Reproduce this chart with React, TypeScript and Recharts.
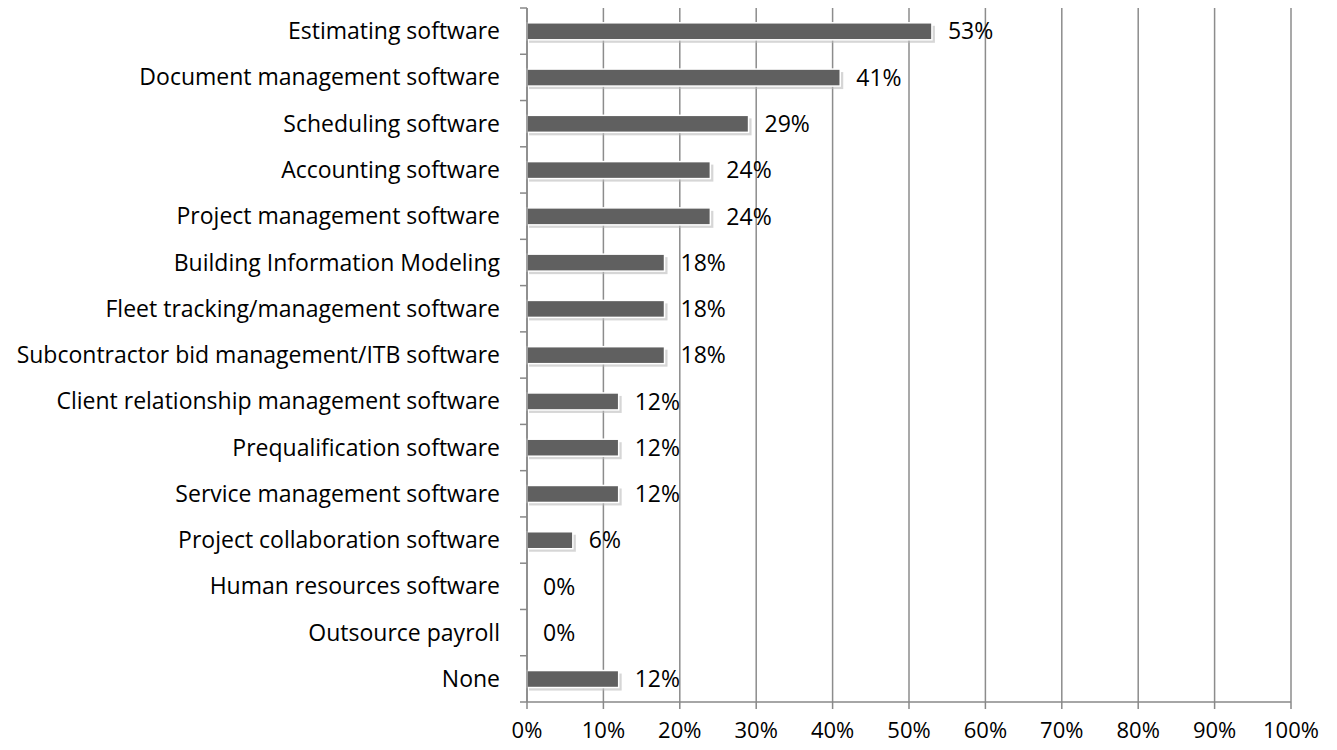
import React from "react";
import {
  BarChart,
  Bar,
  XAxis,
  YAxis,
  CartesianGrid,
  LabelList,
} from "recharts";

const categories = [
  "Estimating software",
  "Document management software",
  "Scheduling software",
  "Accounting software",
  "Project management software",
  "Building Information Modeling ",
  "Fleet tracking/management software",
  "Subcontractor bid management/ITB software",
  "Client relationship management software",
  "Prequalification software",
  "Service management software",
  "Project collaboration software",
  "Human resources software",
  "Outsource payroll",
  "None",
];

const shares = [53, 41, 29, 24, 24, 18, 18, 18, 12, 12, 12, 6, 0, 0, 12];

const xTicks = [0, 10, 20, 30, 40, 50, 60, 70, 80, 90, 100];

const data = categories.map((name, i) => ({ name, value: shares[i] }));

const W = 1337;
const H = 750;
const TOP = 8;
const BOTTOM = 48;
const FONT = "'Open Sans', sans-serif";
const FS = 23;
const band = (H - TOP - BOTTOM) / categories.length;

// category label plus a tick line on the band boundary (Excel style)
const CategoryTick = (props: any) => {
  const { x, y, payload, index } = props;
  const ax = x + 27;
  const isLast = index === categories.length - 1;
  return (
    <g>
      <line x1={ax - 7} x2={ax} y1={y - band / 2} y2={y - band / 2} stroke="#888" strokeWidth={1.5} />
      {isLast && (
        <line x1={ax - 7} x2={ax} y1={y + band / 2} y2={y + band / 2} stroke="#888" strokeWidth={1.5} />
      )}
      <text x={x} y={y} dy="0.35em" textAnchor="end" fontSize={FS} fill="#000" fontFamily={FONT}>
        {payload.value}
      </text>
    </g>
  );
};

const ShadowBar = (props: any) => {
  const { x, y, width, height } = props;
  if (!width || width <= 0) return null;
  return (
    <g>
      <rect x={x + 2} y={y + 3} width={width + 1} height={height} fill="#bbb" opacity={0.6} />
      <rect x={x} y={y} width={width} height={height} fill="#606060" stroke="#fff" strokeWidth={1.5} />
    </g>
  );
};

export default function App() {
  return (
    <div style={{ position: "absolute", left: 0, top: 0, background: "#fff" }}>
      <BarChart
        width={W}
        height={H}
        data={data}
        layout="vertical"
        margin={{ top: TOP, right: 46, bottom: 0, left: 0 }}
        barCategoryGap="32%"
      >
        <CartesianGrid horizontal={false} vertical={true} stroke="#8c8c8c" strokeWidth={1.5} />
        <XAxis
          type="number"
          domain={[0, 100]}
          ticks={xTicks}
          interval={0}
          tickFormatter={(v) => `${v}%`}
          height={BOTTOM}
          stroke="#888"
          strokeWidth={1.5}
          tickSize={7}
          tickMargin={13}
          tick={{ fill: "#000", fontSize: 22, fontFamily: FONT }}
        />
        <YAxis
          type="category"
          dataKey="name"
          width={527}
          interval={0}
          stroke="#888"
          strokeWidth={1.5}
          tickLine={false}
          tick={<CategoryTick />}
          tickSize={0}
          tickMargin={27}
        />
        <Bar dataKey="value" shape={<ShadowBar />} isAnimationActive={false}>
          <LabelList
            dataKey="value"
            position="right"
            offset={16}
            formatter={(v: any) => `${v}%`}
            fill="#000"
            fontSize={FS}
            fontFamily={FONT}
          />
        </Bar>
      </BarChart>
    </div>
  );
}
